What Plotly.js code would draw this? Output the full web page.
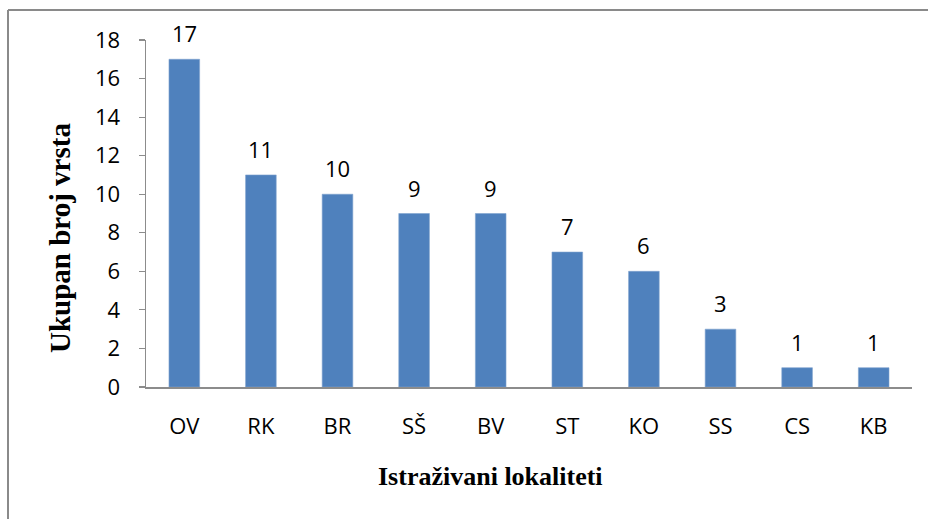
<!DOCTYPE html>
<html>
<head>
<meta charset="utf-8">
<script src="https://cdn.plot.ly/plotly-3.0.1.min.js"></script>
<style>html,body{margin:0;padding:0;background:#fff;}#chart{width:928px;height:519px;}</style>
</head>
<body>
<div id="chart"></div>
<script>
const categories = ["OV", "RK", "BR", "SŠ", "BV", "ST", "KO", "SS", "CS", "KB"];
const values = [17, 11, 10, 9, 9, 7, 6, 3, 1, 1];
const yTickVals = [0, 2, 4, 6, 8, 10, 12, 14, 16, 18];
const xTitle = "Istraživani lokaliteti";
const yTitle = "Ukupan broj vrsta";

const W = 928, H = 519;
const m = {l: 146, r: 16, t: 40, b: 132};
const pw = W - m.l - m.r, ph = H - m.t - m.b;
const px = x => (x - m.l) / pw;
const py = y => (H - m.b - y) / ph;

const tickFont = {family: "Open Sans, Noto Sans, sans-serif", size: 22, color: "#000"};

const annotations = categories.map((c, i) => ({
  x: c, y: values[i], xref: "x", yref: "y",
  text: String(values[i]), showarrow: false,
  yanchor: "bottom", yshift: 9,
  font: tickFont
}));
annotations.push({
  xref: "paper", yref: "paper", x: px(490), y: py(476),
  text: "<b>" + xTitle + "</b>", showarrow: false,
  xanchor: "center", yanchor: "middle",
  font: {family: "Liberation Serif, Times New Roman, serif", size: 26, color: "#000"}
});
annotations.push({
  xref: "paper", yref: "paper", x: px(60), y: py(238),
  text: "<b>" + yTitle + "</b>", showarrow: false, textangle: -90,
  xanchor: "center", yanchor: "middle",
  font: {family: "Liberation Serif, Times New Roman, serif", size: 29, color: "#000"}
});

const trace = {
  type: "bar", x: categories, y: values,
  marker: {color: "#4F81BD", line: {color: "#7FA3CF", width: 0.6}},
  hoverinfo: "none"
};

const layout = {
  width: W, height: H,
  margin: m,
  paper_bgcolor: "#fff", plot_bgcolor: "#fff",
  showlegend: false,
  bargap: 0.6,
  xaxis: {
    type: "category", showline: true, linecolor: "#8c8c8c", linewidth: 1.5,
    ticks: "", showgrid: false, zeroline: false,
    tickfont: tickFont, ticklabelstandoff: 19, fixedrange: true
  },
  yaxis: {
    range: [0, 18], tickvals: yTickVals, showline: true, linecolor: "#8c8c8c", linewidth: 1.5,
    ticks: "outside", ticklen: 6, tickcolor: "#8c8c8c", tickwidth: 1.2,
    showgrid: false, zeroline: false,
    tickfont: tickFont, ticklabelstandoff: 14, fixedrange: true
  },
  annotations: annotations,
  shapes: [
    {type: "line", xref: "paper", yref: "paper", x0: px(8), x1: px(930), y0: py(10), y1: py(10), line: {color: "#8a8a8a", width: 2}},
    {type: "line", xref: "paper", yref: "paper", x0: px(8), x1: px(8), y0: py(10), y1: py(522), line: {color: "#8a8a8a", width: 2}}
  ]
};

Plotly.newPlot("chart", [trace], layout, {displayModeBar: false, staticPlot: true});
</script>
</body>
</html>
